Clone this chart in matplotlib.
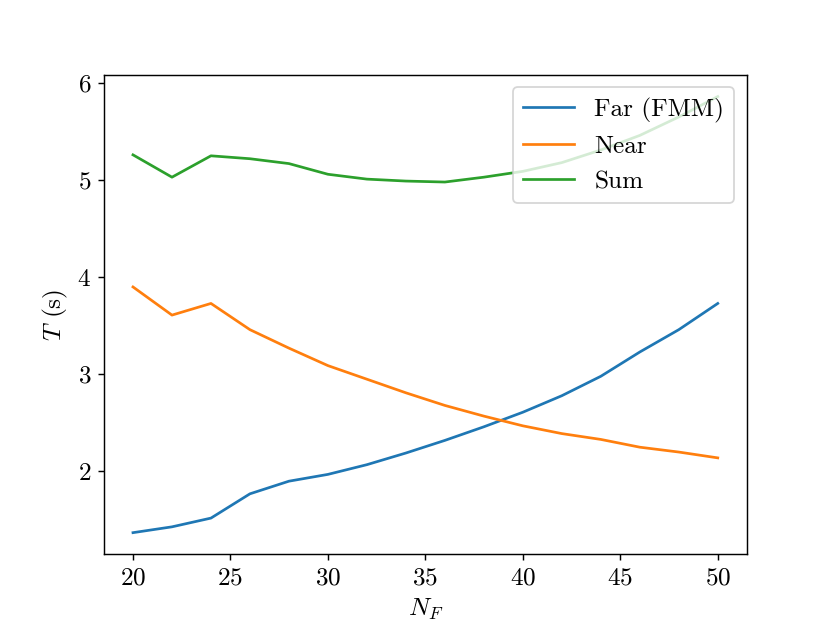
import numpy as np
import matplotlib
matplotlib.use("Agg")
import matplotlib.pyplot as plt

plt.rcParams['font.family'] = 'serif'
plt.rcParams['font.serif'] = ['cmr10', 'DejaVu Serif']
plt.rcParams['mathtext.fontset'] = 'cm'
plt.rcParams['axes.formatter.use_mathtext'] = True
plt.rcParams['font.size'] = 14

## values
n_f = [20, 22, 24, 26, 28, 30, 32, 34, 36, 38, 40, 42, 44, 46, 48, 50]
t_far = [1.37, 1.43, 1.52, 1.77, 1.90, 1.97, 2.07, 2.19, 2.32, 2.46, 2.61, 2.78, 2.98, 3.23, 3.46, 3.73]
t_near = [3.90, 3.61, 3.73, 3.46, 3.27, 3.09, 2.95, 2.81, 2.68, 2.57, 2.47, 2.39, 2.33, 2.25, 2.20, 2.14]
t_sum = [5.26, 5.03, 5.25, 5.22, 5.17, 5.06, 5.01, 4.99, 4.98, 5.03, 5.09, 5.18, 5.31, 5.46, 5.65, 5.86]

fig, ax = plt.subplots(figsize=(8.3/1.3, 6.23/1.3), dpi=130)
ax.plot(n_f, t_far, label='Far (FMM)')
ax.plot(n_f, t_near, label='Near')
ax.plot(n_f, t_sum, label='Sum')

ax.set_xlabel('$N_F$')
ax.set_ylabel('$T$ (s)')
ax.set_yticks([2, 3, 4, 5, 6])
ax.legend(loc='upper right')

fig.savefig('out.png', dpi=130)
